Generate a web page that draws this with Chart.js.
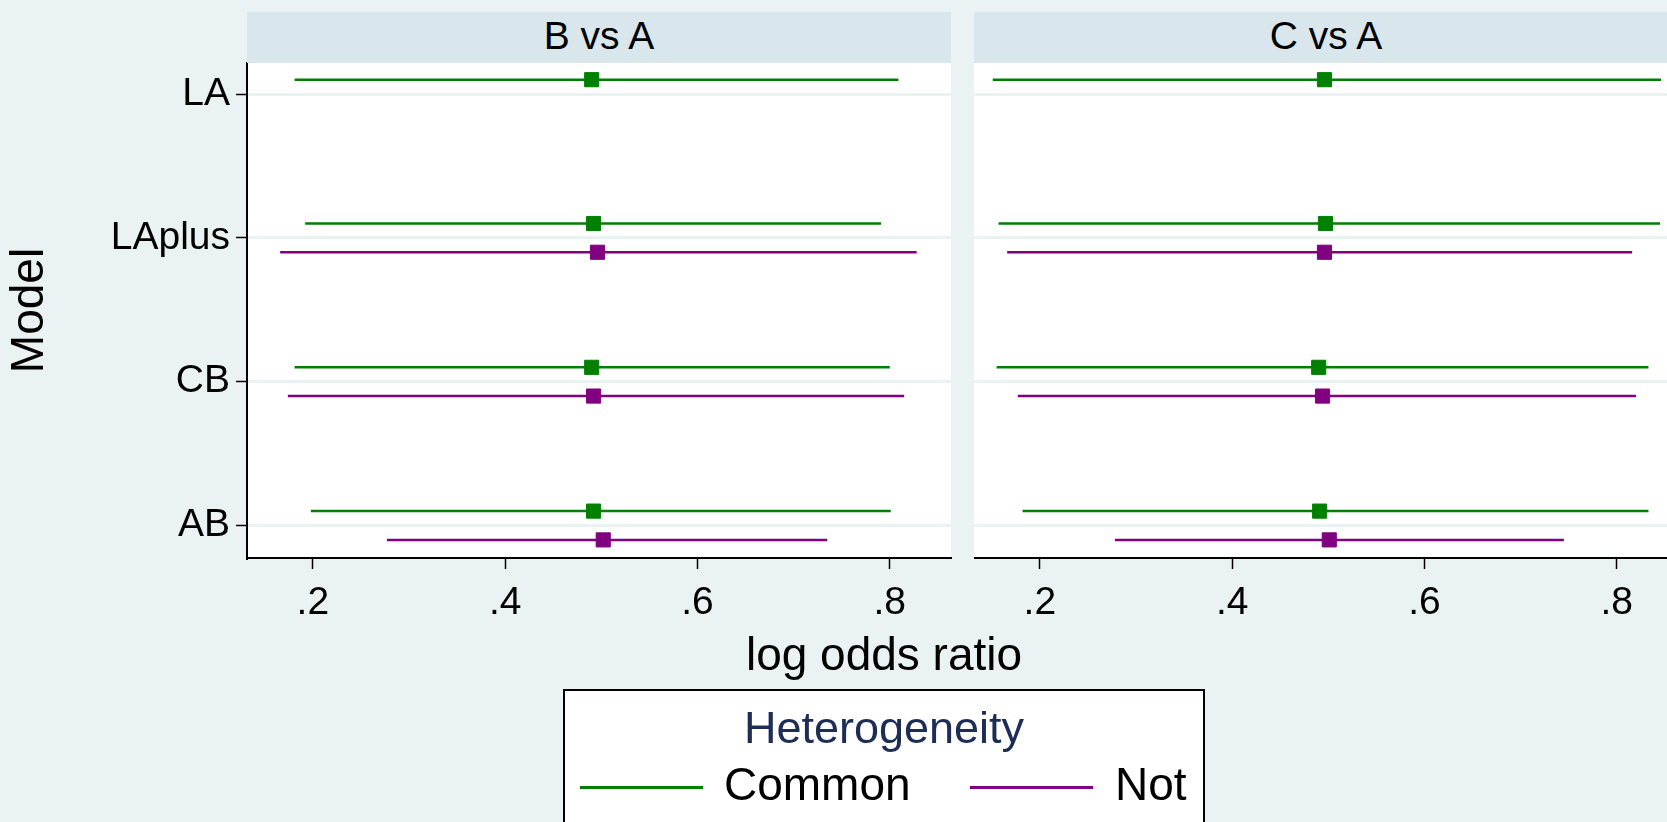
<!DOCTYPE html>
<html lang="en">
<head>
<meta charset="UTF-8">
<title>Log odds ratio by model</title>
<style>
    body {
        margin: 0;
        background-color: #eaf2f3;
        font-family: "Liberation Sans", Arial, sans-serif;
    }

    #wrap {
        position: relative;
        width: 1667px;
        height: 822px;
        overflow: hidden;
    }

    canvas {
        position: absolute;
        top: 0;
    }

    .strip {
        position: absolute;
        top: 12px;
        height: 51px;
        width: 704px;
        background-color: #d9e6eb;
        text-align: center;
        font-size: 39px;
        line-height: 47px;
        color: #000;
    }

    #xtitle {
        position: absolute;
        top: 631px;
        left: 584px;
        width: 600px;
        text-align: center;
        font-size: 46px;
        line-height: 46px;
    }

    #legend {
        position: absolute;
        left: 563px;
        top: 689px;
        width: 638px;
        height: 160px;
        background: #fff;
        border: 2px solid #000;
    }

    #legend .title {
        position: absolute;
        top: 14px;
        left: 0;
        width: 100%;
        text-align: center;
        font-size: 45px;
        line-height: 45px;
        color: #1e2d55;
    }

    #legend .swatch {
        position: absolute;
        top: 95px;
        width: 123px;
        height: 3px;
    }

    #legend .label {
        position: absolute;
        top: 70px;
        font-size: 46px;
        line-height: 46px;
        color: #000;
    }
</style>
</head>
<body>
<div id="wrap">
    <canvas id="panelBA" width="960" height="640" style="left:0"></canvas>
    <canvas id="panelCA" width="704" height="640" style="left:974px"></canvas>

    <div class="strip" style="left:247px">B vs A</div>
    <div class="strip" style="left:974px">C vs A</div>

    <div id="xtitle">log odds ratio</div>

    <div id="legend">
        <div class="title">Heterogeneity</div>
        <div class="swatch" style="left:15px;background:#008000"></div>
        <div class="label" style="left:159px">Common</div>
        <div class="swatch" style="left:405px;background:#800080"></div>
        <div class="label" style="left:550px">Not</div>
    </div>
</div>

<script src="https://cdn.jsdelivr.net/npm/chart.js"></script>
<script>
    const models = ['LA', 'LAplus', 'CB', 'AB'];
    const xTicks = [0.2, 0.4, 0.6, 0.8];
    const xTickLabels = ['.2', '.4', '.6', '.8'];

    // B vs A
    const commonBA_est = [0.490, 0.492, 0.490, 0.492];
    const commonBA_lo = [0.181, 0.192, 0.181, 0.198];
    const commonBA_hi = [0.809, 0.791, 0.800, 0.801];
    const notBA_est = [null, 0.496, 0.492, 0.502];
    const notBA_lo = [null, 0.166, 0.174, 0.277];
    const notBA_hi = [null, 0.828, 0.815, 0.735];

    // C vs A
    const commonCA_est = [0.496, 0.497, 0.490, 0.491];
    const commonCA_lo = [0.151, 0.157, 0.155, 0.182];
    const commonCA_hi = [0.846, 0.845, 0.833, 0.833];
    const notCA_est = [null, 0.496, 0.494, 0.501];
    const notCA_lo = [null, 0.166, 0.177, 0.278];
    const notCA_hi = [null, 0.816, 0.820, 0.745];

    const GREEN = '#008000';
    const PURPLE = '#800080';
    const FONT = '"Liberation Sans", Arial, sans-serif';

    // white plot region, the page itself is the grey-blue Stata background
    const plotBg = {
        id: 'plotBg',
        beforeDraw(chart) {
            const { ctx, chartArea: a } = chart;
            ctx.save();
            ctx.fillStyle = '#fff';
            ctx.fillRect(a.left, a.top, a.right - a.left, a.bottom - a.top);
            ctx.restore();
        }
    };

    function seriesSets(est, lo, hi, color, shift) {
        const sets = [];
        const points = [];
        for (let i = 0; i < models.length; i++) {
            if (est[i] === null) continue;
            const y = i + 1 + shift;
            sets.push({
                data: [{ x: lo[i], y: y }, { x: hi[i], y: y }],
                showLine: true,
                borderColor: color,
                borderWidth: 2.5,
                pointRadius: 0,
                order: 1
            });
            points.push({ x: est[i], y: y });
        }
        sets.push({
            data: points,
            pointStyle: 'rect',
            pointRadius: 10,
            borderWidth: 1,
            borderColor: color,
            backgroundColor: color,
            order: 0
        });
        return sets;
    }

    function makePanel(id, common, not, isLeft) {
        const datasets = seriesSets(common[0], common[1], common[2], GREEN, -0.1)
            .concat(seriesSets(not[0], not[1], not[2], PURPLE, 0.1));

        return new Chart(document.getElementById(id), {
            type: 'scatter',
            data: { datasets: datasets },
            plugins: [plotBg],
            options: {
                responsive: false,
                animation: false,
                layout: {
                    autoPadding: false,
                    padding: { top: 63, right: isLeft ? 9 : 0, left: 0, bottom: 0 }
                },
                plugins: {
                    legend: { display: false },
                    tooltip: { enabled: false }
                },
                scales: {
                    x: {
                        type: 'linear',
                        min: 0.1315,
                        max: 0.8637,
                        afterBuildTicks: (s) => { s.ticks = xTicks.map(v => ({ value: v })); },
                        afterFit: (s) => { s.height = 82; },
                        ticks: {
                            color: '#000',
                            padding: 11,
                            font: { family: FONT, size: 39 },
                            callback: (v) => xTickLabels[xTicks.indexOf(v)]
                        },
                        grid: {
                            drawOnChartArea: false,
                            tickLength: 11,
                            tickColor: '#000',
                            tickWidth: 1.5
                        },
                        border: { color: '#000', width: 2 }
                    },
                    y: {
                        type: 'linear',
                        reverse: true,
                        min: 0.784,
                        max: 4.226,
                        afterBuildTicks: (s) => { s.ticks = models.map((m, i) => ({ value: i + 1 })); },
                        afterFit: (s) => { s.width = isLeft ? 247 : 0; },
                        title: {
                            display: isLeft,
                            text: 'Model',
                            color: '#000',
                            font: { family: FONT, size: 46 },
                            padding: { top: 3, bottom: 0 }
                        },
                        ticks: {
                            display: isLeft,
                            color: '#000',
                            padding: 6,
                            font: { family: FONT, size: 39 },
                            callback: (v) => models[v - 1]
                        },
                        grid: {
                            color: '#eaf2f3',
                            lineWidth: 3,
                            drawTicks: isLeft,
                            tickLength: 11,
                            tickColor: '#000',
                            tickWidth: 1.5
                        },
                        border: { display: isLeft, color: '#000', width: 2 }
                    }
                }
            }
        });
    }

    makePanel('panelBA', [commonBA_est, commonBA_lo, commonBA_hi], [notBA_est, notBA_lo, notBA_hi], true);
    makePanel('panelCA', [commonCA_est, commonCA_lo, commonCA_hi], [notCA_est, notCA_lo, notCA_hi], false);
</script>
</body>
</html>
